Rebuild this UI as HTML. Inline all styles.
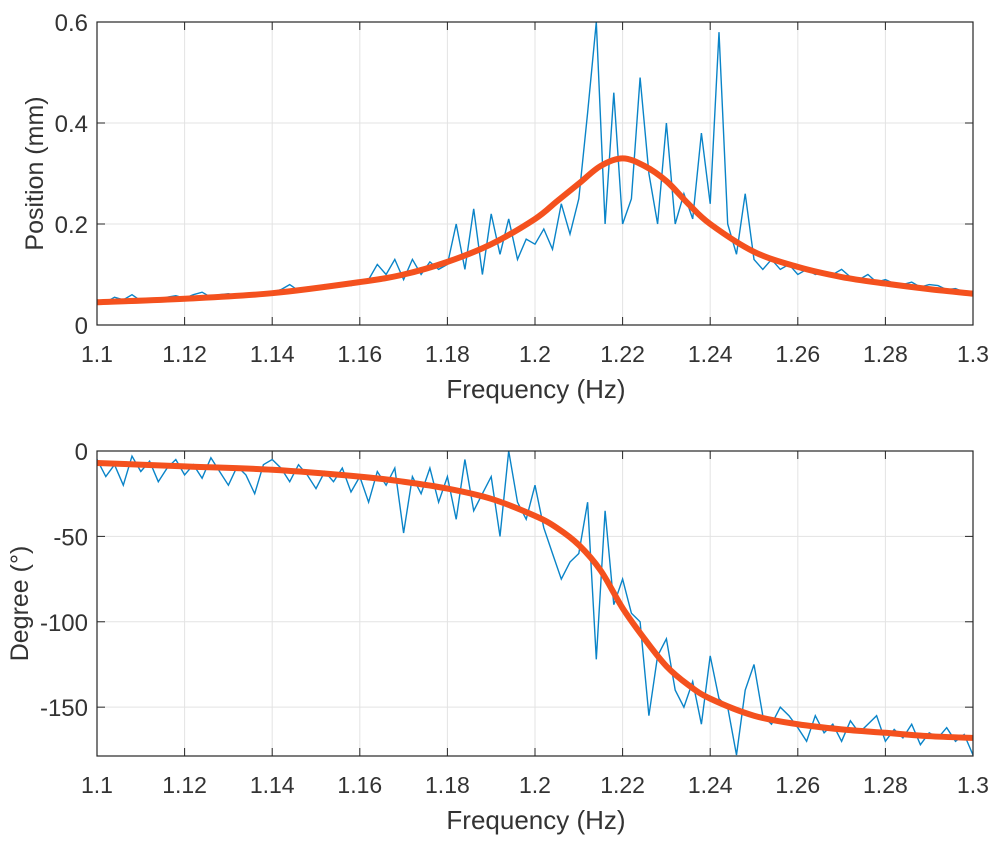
<!DOCTYPE html>
<html><head><meta charset="utf-8">
<style>
html,body{margin:0;padding:0;background:#fff;}
svg{display:block;font-family:"Liberation Sans",sans-serif;}
</style></head>
<body>
<svg id="chart" width="998" height="842" viewBox="0 0 998 842">
<defs>
<clipPath id="clipTop"><rect x="97" y="22" width="876" height="303"/></clipPath>
<clipPath id="clipBot"><rect x="97" y="451" width="876" height="305"/></clipPath>
</defs>
<g id="top"></g>
<g id="bot"></g>
</svg>
<script>
const xTicks = [1.1,1.12,1.14,1.16,1.18,1.2,1.22,1.24,1.26,1.28,1.3];
const xTickLabels = ["1.1","1.12","1.14","1.16","1.18","1.2","1.22","1.24","1.26","1.28","1.3"];
const posTicks = [0,0.2,0.4,0.6];
const posTickLabels = ["0","0.2","0.4","0.6"];
const degTicks = [0,-50,-100,-150];
const degTickLabels = ["0","-50","-100","-150"];
const noiseStart = 1.1, noiseStep = 0.002;
const posNoise = [0.05,0.045,0.055,0.05,0.06,0.048,0.052,0.05,0.055,0.058,0.053,0.06,0.065,0.055,0.06,0.062,0.058,0.06,0.063,0.06,0.065,
0.07,0.08,0.068,0.075,0.07,0.08,0.075,0.082,0.078,0.085,
0.09,0.12,0.1,0.13,0.09,0.13,0.1,0.125,0.11,0.12,
0.2,0.11,0.23,0.1,0.22,0.14,0.21,0.13,0.17,0.16,
0.19,0.15,0.24,0.18,0.25,0.42,0.6,0.2,0.46,0.2,
0.25,0.49,0.3,0.2,0.4,0.2,0.26,0.21,0.38,0.24,
0.58,0.2,0.14,0.26,0.13,0.11,0.13,0.11,0.12,0.1,
0.11,0.1,0.105,0.1,0.11,0.095,0.09,0.1,0.085,0.09,
0.082,0.08,0.085,0.075,0.08,0.078,0.07,0.072,0.065,0.06];
const degNoise = [-5,-15,-8,-20,-3,-12,-6,-18,-10,-5,-14,-8,-16,-4,-12,-20,-9,-14,-25,-8,-5,
-10,-18,-8,-14,-22,-12,-18,-10,-24,-15,
-30,-12,-20,-10,-48,-15,-25,-10,-30,-15,
-40,-5,-35,-25,-15,-50,0,-30,-40,-20,
-45,-60,-75,-65,-60,-30,-122,-35,-90,-75,
-95,-100,-155,-120,-110,-140,-150,-135,-160,-120,
-145,-150,-178,-140,-125,-155,-160,-150,-155,-162,
-170,-155,-165,-160,-170,-158,-165,-160,-155,-170,
-163,-168,-160,-172,-165,-168,-162,-170,-166,-178];
const fitX = [1.1,1.12,1.14,1.16,1.17,1.18,1.19,1.2,1.205,1.21,1.215,1.22,1.225,1.23,1.235,1.24,1.25,1.26,1.27,1.28,1.29,1.3];
const posFit = [0.045,0.052,0.063,0.085,0.1,0.125,0.16,0.21,0.245,0.28,0.315,0.33,0.315,0.285,0.24,0.2,0.145,0.115,0.095,0.082,0.071,0.062];
const degFit = [-7,-9,-11,-15,-18,-22,-28,-38,-45,-55,-70,-92,-110,-126,-137,-145,-155,-160,-163,-165,-167,-168];

const NS="http://www.w3.org/2000/svg";
function mk(tag,attrs,parent){const e=document.createElementNS(NS,tag);for(const k in attrs)e.setAttribute(k,attrs[k]);parent.appendChild(e);return e;}
const xs = v => 97 + (v-1.1)/0.2*876;

function drawAxes(g, y0px, y1px, ymin, ymax, ticks, labels, ylabel, ylx, clipId, noise, fit, name){
  const ys = v => y1px - (v-ymin)/(ymax-ymin)*(y1px-y0px);
  xTicks.forEach((t,i)=>{
    const l=mk('line',{x1:xs(t),x2:xs(t),y1:y0px,y2:y1px,stroke:'#e3e3e3','stroke-width':1},g);
    
    
  });
  ticks.forEach(t=>{
    const l=mk('line',{x1:97,x2:973,y1:ys(t),y2:ys(t),stroke:'#e3e3e3','stroke-width':1},g);
    
    
  });
  const cg = mk('g',{'clip-path':'url(#'+clipId+')'},g);
  let d='';
  noise.forEach((v,i)=>{d+=(i?'L':'M')+xs(noiseStart+i*noiseStep).toFixed(1)+','+ys(v).toFixed(1);});
  const n=mk('path',{d:d,fill:'none',stroke:'#0a84c8','stroke-width':1.4},cg);
  
  
  const pts=fitX.map((x,i)=>[xs(x),ys(fit[i])]);
  let fd='M'+pts[0][0]+','+pts[0][1];
  for(let i=0;i<pts.length-1;i++){
    const p0=pts[Math.max(0,i-1)],p1=pts[i],p2=pts[i+1],p3=pts[Math.min(pts.length-1,i+2)];
    const c1=[p1[0]+(p2[0]-p0[0])/6,p1[1]+(p2[1]-p0[1])/6];
    const c2=[p2[0]-(p3[0]-p1[0])/6,p2[1]-(p3[1]-p1[1])/6];
    fd+='C'+c1.join(',')+' '+c2.join(',')+' '+p2.join(',');
  }
  const f=mk('path',{d:fd,fill:'none',stroke:'#f4511e','stroke-width':6,'stroke-linecap':'round'},cg);
  
  
  const box=mk('rect',{x:97,y:y0px,width:876,height:y1px-y0px,fill:'none',stroke:'#262626','stroke-width':1.2},g);
  
  
  xTicks.forEach((t,i)=>{
    mk('line',{x1:xs(t),x2:xs(t),y1:y1px,y2:y1px-8,stroke:'#262626','stroke-width':1},g);
    mk('line',{x1:xs(t),x2:xs(t),y1:y0px,y2:y0px+8,stroke:'#262626','stroke-width':1},g);
    const tx=mk('text',{x:xs(t),y:y1px+37,'text-anchor':'middle','font-size':23,fill:'#333'},g);
    tx.textContent=xTickLabels[i];
    
    
  });
  ticks.forEach((t,i)=>{
    mk('line',{x1:97,x2:105,y1:ys(t),y2:ys(t),stroke:'#262626','stroke-width':1},g);
    mk('line',{x1:973,x2:965,y1:ys(t),y2:ys(t),stroke:'#262626','stroke-width':1},g);
    const tx=mk('text',{x:88,y:ys(t)+9,'text-anchor':'end','font-size':24,fill:'#333'},g);
    tx.textContent=labels[i];
    
    
  });
  const xt=mk('text',{x:536,y:y1px+73,'text-anchor':'middle','font-size':26,fill:'#333'},g);
  xt.textContent='Frequency (Hz)';
  
  
  const cy=(y0px+y1px)/2;
  const yt=mk('text',{x:ylx,y:cy,'text-anchor':'middle','font-size':25,fill:'#333',transform:'rotate(-90 '+ylx+' '+cy+')'},g);
  yt.textContent=ylabel;
  
  
}
drawAxes(document.getElementById('top'),22,325,0,0.6,posTicks,posTickLabels,'Position (mm)',43,'clipTop',posNoise,posFit,'position');
drawAxes(document.getElementById('bot'),451,756,-178.6,0,degTicks,degTickLabels,'Degree (°)',28,'clipBot',degNoise,degFit,'phase');
</script>
</body></html>
